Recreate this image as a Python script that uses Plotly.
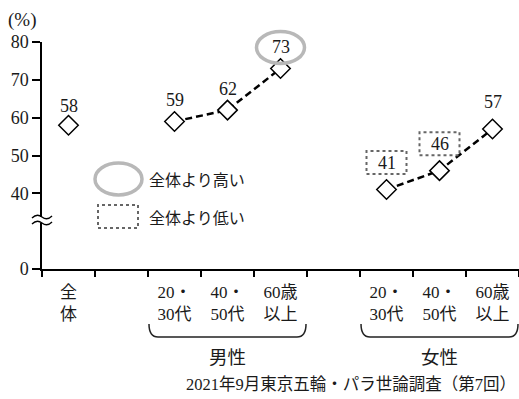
import plotly.graph_objects as go

# ---------------- data ----------------
categories = ["全<br>体", "", "20・<br>30代", "40・<br>50代", "60歳<br>以上",
              "", "20・<br>30代", "40・<br>50代", "60歳<br>以上"]
overall_value = [58]
male_values = [59, 62, 73]
female_values = [41, 46, 57]
group_names = ["男性", "女性"]
y_tickvals = [20, 40, 50, 60, 70, 80]
y_ticktext = ["0", "40", "50", "60", "70", "80"]
legend_texts = ["全体より高い", "全体より低い"]
footer = "2021年9月東京五輪・パラ世論調査（第7回）"

overall_x = [0]
male_x = [2, 3, 4]
female_x = [6, 7, 8]
high_points = [(4, 73)]            # higher than overall
low_points = [(6, 41), (7, 46)]    # lower than overall

# ---------------- geometry ----------------
W, H = 519, 399
L, R, T, B = 42, 0, 42, 130
PW, PH = W - L - R, H - T - B
XMIN, XMAX = -0.5, 8.5
YMIN, YMAX = 20, 80

def xpx(v):
    return L + (v - XMIN) / (XMAX - XMIN) * PW

def ypx(v):
    return T + (YMAX - v) / (YMAX - YMIN) * PH

def px(x):
    return (x - L) / PW

def py(y):
    return (H - B - y) / PH

SERIF = "Liberation Serif, Noto Sans CJK JP"
SANS = "Noto Sans CJK JP"
INK = "#1a1a1a"

fig = go.Figure()

line_style = dict(color="black", width=2.5, dash="7px,4px")
marker_style = dict(symbol="diamond", size=15, color="white",
                    line=dict(color="black", width=1.5))

fig.add_trace(go.Scatter(x=overall_x, y=overall_value, mode="markers",
                         marker=marker_style, cliponaxis=False, showlegend=False))
fig.add_trace(go.Scatter(x=male_x, y=male_values, mode="lines+markers",
                         line=line_style, marker=marker_style, cliponaxis=False,
                         showlegend=False))
fig.add_trace(go.Scatter(x=female_x, y=female_values, mode="lines+markers",
                         line=line_style, marker=marker_style, cliponaxis=False,
                         showlegend=False))

annotations = []
shapes = []

# value labels
label_font = dict(family=SERIF, size=18, color=INK)
label_sets = [(overall_x, overall_value, 19), (male_x, male_values, 21),
              (female_x, female_values, 27)]
for xs, vs, off in label_sets:
    for xv, v in zip(xs, vs):
        annotations.append(dict(x=xv, y=v, xref="x", yref="y", text=str(v),
                                showarrow=False, yshift=off, yanchor="middle",
                                font=label_font))

# highlight ellipse(s)
for xv, v in high_points:
    cx, cy = xpx(xv), ypx(v) - 21
    shapes.append(dict(type="circle", xref="paper", yref="paper",
                       x0=px(cx - 24), x1=px(cx + 24), y0=py(cy + 16), y1=py(cy - 16),
                       line=dict(color="#b8b8b8", width=3.5)))
# low boxes
for xv, v in low_points:
    cx, cy = xpx(xv), ypx(v) - 27
    shapes.append(dict(type="rect", xref="paper", yref="paper",
                       x0=px(cx - 20), x1=px(cx + 20), y0=py(cy + 11.5), y1=py(cy - 11.5),
                       line=dict(color="#666666", width=2, dash="dot")))

# legend
shapes.append(dict(type="circle", xref="paper", yref="paper",
                   x0=px(95), x1=px(142), y0=py(195), y1=py(163),
                   line=dict(color="#b8b8b8", width=3.5)))
shapes.append(dict(type="rect", xref="paper", yref="paper",
                   x0=px(98), x1=px(138), y0=py(228), y1=py(205),
                   line=dict(color="#666666", width=2, dash="dot")))
for txt, yy in zip(legend_texts, [179, 217]):
    annotations.append(dict(x=px(147), y=py(yy), xref="paper", yref="paper",
                            text=txt, showarrow=False, xanchor="left", yanchor="middle",
                            font=dict(family=SANS, size=16, color=INK)))

# axis break
shapes.append(dict(type="rect", xref="paper", yref="paper",
                   x0=px(36), x1=px(48), y0=py(223), y1=py(217),
                   fillcolor="white", line=dict(width=0)))
for yy in [217, 223]:
    path = "M {:.4f},{:.4f} Q {:.4f},{:.4f} {:.4f},{:.4f} T {:.4f},{:.4f}".format(
        px(32), py(yy + 1), px(37), py(yy - 4), px(42), py(yy), px(52), py(yy - 1))
    shapes.append(dict(type="path", xref="paper", yref="paper", path=path,
                       line=dict(color="black", width=1.3)))

# group brackets
for (a, b), name in zip([(male_x[0], male_x[-1]), (female_x[0], female_x[-1])], group_names):
    x0 = xpx(a - 0.5) + 1
    x1 = xpx(b + 0.5) - 1
    ytop, ybot, r = 324, 337, 9
    path = ("M {:.4f},{:.4f} Q {:.4f},{:.4f} {:.4f},{:.4f} L {:.4f},{:.4f} "
            "Q {:.4f},{:.4f} {:.4f},{:.4f}").format(
        px(x0), py(ytop), px(x0), py(ybot), px(x0 + r), py(ybot),
        px(x1 - r), py(ybot), px(x1), py(ybot), px(x1), py(ytop))
    shapes.append(dict(type="path", xref="paper", yref="paper", path=path,
                       line=dict(color="#222222", width=1.5)))
    annotations.append(dict(x=(a + b) / 2, y=py(356), xref="x", yref="paper",
                            text=name, showarrow=False, yanchor="middle",
                            font=dict(family=SANS, size=18.5, color=INK)))

# unit & footer
annotations.append(dict(x=px(6), y=py(20), xref="paper", yref="paper", text="(%)",
                        showarrow=False, xanchor="left", yanchor="middle",
                        font=dict(family=SERIF, size=19, color=INK)))
annotations.append(dict(x=px(518), y=py(384), xref="paper", yref="paper", text=footer,
                        showarrow=False, xanchor="right", yanchor="middle",
                        font=dict(family=SERIF, size=16.5, color=INK)))

fig.update_layout(
    width=W, height=H, autosize=False,
    margin=dict(l=L, r=R, t=T, b=B, pad=0),
    paper_bgcolor="white", plot_bgcolor="white",
    showlegend=False,
    shapes=shapes, annotations=annotations,
    xaxis=dict(range=[XMIN, XMAX], tickmode="array", tickvals=list(range(len(categories))),
               ticktext=categories, ticks="", showgrid=False, zeroline=False,
               showline=True, linecolor="black", linewidth=1.5,
               tickfont=dict(family=SERIF, size=17, color=INK),
               ticklabelstandoff=7,
               minor=dict(tick0=-0.5, dtick=1, ticks="outside", ticklen=6,
                          tickwidth=1.5, tickcolor="black", showgrid=False),
               fixedrange=True),
    yaxis=dict(range=[YMIN, YMAX], tickmode="array", tickvals=y_tickvals,
               ticktext=y_ticktext, ticks="outside", ticklen=8, tickwidth=1.5,
               tickcolor="black", showgrid=False, zeroline=False,
               showline=True, linecolor="black", linewidth=1.5,
               tickfont=dict(family=SERIF, size=18, color=INK), fixedrange=True),
)

fig.write_html("out.html", config={"displayModeBar": False})
